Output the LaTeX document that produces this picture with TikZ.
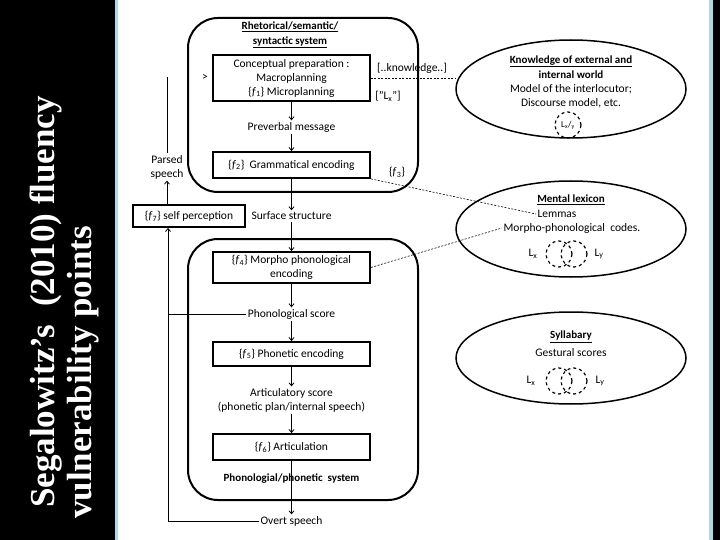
\documentclass[tikz,border=0pt]{standalone}
\usepackage{fontspec}
\setmainfont{Carlito}
\newfontfamily\titlefont{Liberation Serif}
\usetikzlibrary{shapes.geometric,arrows.meta}
\definecolor{lblue}{RGB}{173,216,230}
\newcommand{\vpt}[1]{\{\textit{f}\textsubscript{#1}\}}

\begin{document}
\begin{tikzpicture}[x=1pt,y=-1pt,
  every node/.style={font=\fontsize{11.5}{14}\selectfont, inner sep=1.5pt, align=center},
  hd/.style={font=\fontsize{11}{15}\selectfont\bfseries},
  proc/.style={draw, line width=1.8pt, minimum width=157, minimum height=#1},
  sysbox/.style={line width=2pt, rounded corners=30pt},
  lexell/.style={ellipse, draw, line width=1.5pt, minimum width=230},
  mem/.style={circle, draw, dashed, line width=1.2pt, minimum size=26, inner sep=0pt, font=\fontsize{9}{10}\selectfont},
  arr/.style={-{Straight Barb[length=3pt,width=5pt]}, line width=0.8pt},
  dline/.style={dash pattern=on 2pt off 1.5pt, line width=0.6pt},
  title/.style={rotate=90, text=white, inner sep=0pt, font=\titlefont\bfseries\fontsize{35}{38}\selectfont}]
\useasboundingbox (0,0) rectangle (720,540);
\fill[black] (0,0) rectangle (720,540);
\fill[lblue] (115,0) rectangle (713,540);
\fill[white] (118,0) rectangle (709,540);
\node[title, anchor=base west] (t1) at (54,508) {Segalowitz’s\ \ (2010) fluency};
\node[title, anchor=base west] (t2) at (91,519) {vulnerability points};
\draw[sysbox] (188,18) rectangle (418,192);
\draw[sysbox] (188,239) rectangle (418,500);
\node[hd] (rhet) at (290,35) {\underline{Rhetorical/semantic/}\\\underline{syntactic system}};
\node[proc=46] (conc) at (291.5,78) {Conceptual preparation :\\Macroplanning\\\vpt{1} Microplanning};
\node (prev) at (291.5,127) {Preverbal message};
\node[proc=26] (gram) at (291.5,165) {\vpt{2}\ \ Grammatical encoding};
\node (surf) at (291.5,216) {Surface structure};
\node[proc=31] (morph) at (291.5,267.5) {\vpt{4} Morpho phonological\\encoding};
\node (phsc) at (291.5,314) {Phonological score};
\node[proc=24] (phon) at (291.5,354) {\vpt{5}\ Phonetic encoding};
\node (artsc) at (291.5,400) {Articulatory score\\(phonetic plan/internal speech)};
\node[proc=26] (artic) at (291.5,447) {\vpt{6}\ Articulation};
\node[hd] (phsys) at (291.5,479) {Phonologial/phonetic\ \ system};
\node (overt) at (291.5,521) {Overt speech};
\draw[arr] (conc) -- (prev);
\draw[arr] (prev) -- (gram);
\draw[arr] (gram) -- (surf);
\draw[arr] (surf) -- (morph);
\draw[arr] (morph) -- (phsc);
\draw[arr] (phsc) -- (phon);
\draw[arr] (phon) -- (artsc);
\draw[arr] (artsc) -- (artic);
\draw[arr] (artic) -- (overt);
\node[proc=22, minimum width=112] (self) at (189,216) {\vpt{7}\ self perception};
\node (parsed) at (167,167) {Parsed\\speech};
\node (gt) at (205,77) {>};
\coordinate (ptop) at (167,77);
\coordinate (fbot) at (168,521);
\draw[arr] (self.north -| parsed) -- (parsed);
\draw (parsed) -- (ptop);
\draw[arr] (overt) -- (fbot) -- (fbot |- self.south);
\draw (phsc) -- (phsc -| fbot);
\node (knw) at (412,68) {[..knowledge..]};
\node (lxq) at (388,96) {["L\textsubscript{x}"]};
\node (f3) at (397,172) {\vpt{3}};
\node[lexell, minimum height=98] (know) at (571,89) {};
\node[hd] (kt) at (571,67) {\underline{Knowledge of external and}\\internal world};
\node (km) at (571,96) {Model of the interlocutor;\\Discourse model, etc.};
\node[mem] (kc) at (568,125) {L\textsubscript{x}/\textsubscript{y}};
\node[lexell, minimum height=96] (lex) at (571,229) {};
\node[hd] (lt) at (571,200) {\underline{Mental lexicon}};
\node (lem) at (557,214) {Lemmas};
\node (codes) at (572,228) {Morpho-phonological\ \ codes.};
\node[mem] (lc1) at (559,254) {};
\node[mem] (lc2) at (574,254) {};
\node (lxa) at (533,254) {L\textsubscript{x}};
\node (lya) at (599,254) {L\textsubscript{y}};
\node[lexell, minimum height=92] (syll) at (571,358) {};
\node[hd] (st) at (571,337) {\underline{Syllabary}};
\node (gs) at (571,353) {Gestural scores};
\node[mem] (sc1) at (559,381) {};
\node[mem] (sc2) at (574,381) {};
\node (sxa) at (531,381) {L\textsubscript{x}};
\node (sya) at (600,381) {L\textsubscript{y}};
\draw[dline] (conc) -- (conc -| know.west);
\draw[dline] (gram.south east) -- (lem.west);
\draw[dline] (morph.east) -- (codes.west);
\end{tikzpicture}
\end{document}
